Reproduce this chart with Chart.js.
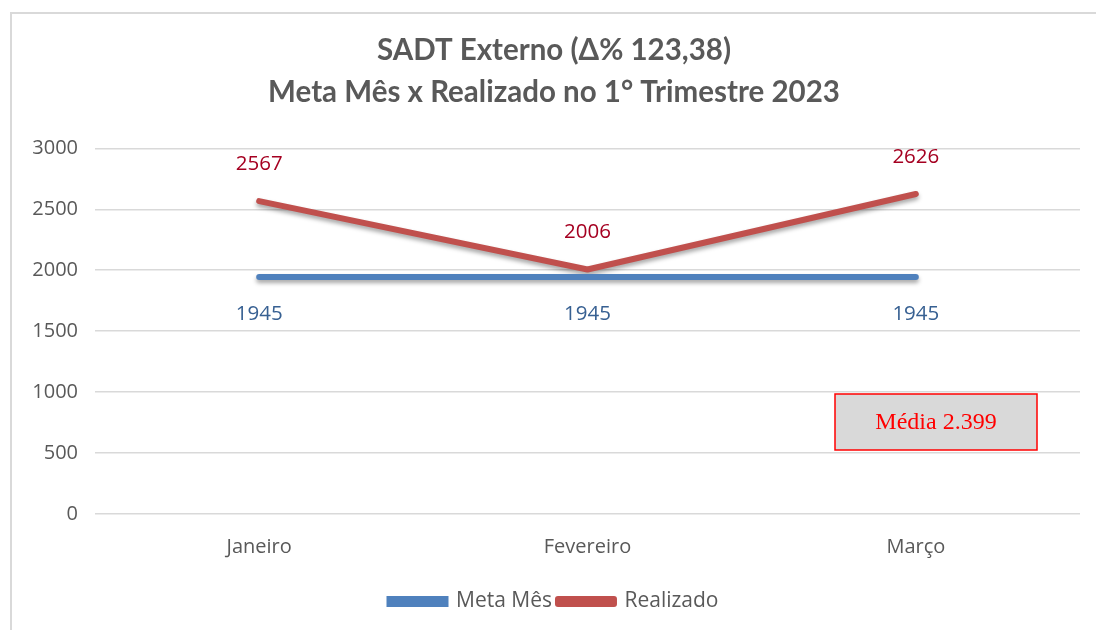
<!DOCTYPE html>
<html>
<head>
<meta charset="utf-8">
<script src="https://cdn.jsdelivr.net/npm/chart.js@4"></script>
<style>
  html, body { margin: 0; padding: 0; background: #fff; }
  #wrap { width: 1096px; height: 630px; }
</style>
</head>
<body>
<div id="wrap"><canvas id="graphId" width="1096" height="630"></canvas></div>
<script>
var months = ['Janeiro', 'Fevereiro', 'Março'];
var metaMes = [1945, 1945, 1945];
var realizado = [2567, 2006, 2626];
var yTicks = [0, 500, 1000, 1500, 2000, 2500, 3000];
var titleLines = ['SADT Externo (Δ% 123,38)', 'Meta Mês x Realizado no 1° Trimestre 2023'];
var mediaText = 'Média 2.399';

var gray = '#595959';
var blue = '#4F81BD';
var red = '#C0504D';

// frame around the chart, like the Excel chart border
var framePlugin = {
	id: 'frame',
	beforeDraw: function(chart) {
		var ctx = chart.ctx;
		ctx.save();
		ctx.fillStyle = '#fff';
		ctx.fillRect(0, 0, chart.width, chart.height);
		ctx.strokeStyle = '#d9d9d9';
		ctx.lineWidth = 2;
		ctx.beginPath();
		ctx.moveTo(11, chart.height);
		ctx.lineTo(11, 13);
		ctx.lineTo(chart.width, 13);
		ctx.stroke();
		ctx.restore();
	}
};

// soft shadow under the lines
var shadowPlugin = {
	id: 'shadow',
	beforeDatasetDraw: function(chart) {
		var ctx = chart.ctx;
		ctx.save();
		ctx.shadowColor = 'rgba(0,0,0,0.35)';
		ctx.shadowBlur = 4;
		ctx.shadowOffsetY = 3;
	},
	afterDatasetDraw: function(chart) {
		chart.ctx.restore();
	}
};

// value labels + "Média" box
var labelPlugin = {
	id: 'labels',
	afterDatasetsDraw: function(chart) {
		var ctx = chart.ctx;
		ctx.save();
		ctx.font = '20.5px "Open Sans"';
		ctx.textAlign = 'center';
		ctx.textBaseline = 'middle';
		chart.data.datasets.forEach(function(ds, i) {
			var meta = chart.getDatasetMeta(i);
			meta.data.forEach(function(pt, j) {
				if (i === 0) {
					ctx.fillStyle = '#376092';
					ctx.fillText(ds.data[j], pt.x, pt.y + 37);
				} else {
					ctx.fillStyle = '#A50021';
					ctx.fillText(ds.data[j], pt.x, pt.y - 37);
				}
			});
		});

		var a = chart.chartArea;
		var x = a.right - 245, y = a.bottom - 120, w = 202, h = 56;
		ctx.fillStyle = '#d9d9d9';
		ctx.fillRect(x, y, w, h);
		ctx.strokeStyle = '#ff0000';
		ctx.lineWidth = 1.5;
		ctx.strokeRect(x, y, w, h);
		ctx.fillStyle = '#ff0000';
		ctx.font = '24px "Liberation Serif"';
		ctx.fillText(mediaText, x + w / 2, y + h / 2 + 1);
		ctx.restore();
	}
};

var ctx = document.getElementById('graphId').getContext('2d');
var myChart = new Chart(ctx, {
	type: 'line',
	data: {
		labels: months,
		datasets: [
			{
				label: 'Meta Mês',
				data: metaMes,
				borderColor: blue,
				backgroundColor: blue,
				borderWidth: 6,
				pointRadius: 0,
				borderCapStyle: 'round'
			},
			{
				label: 'Realizado',
				data: realizado,
				borderColor: red,
				backgroundColor: red,
				borderWidth: 6,
				pointRadius: 0,
				borderCapStyle: 'round',
				borderJoinStyle: 'round'
			}
		]
	},
	options: {
		responsive: false,
		animation: false,
		layout: { padding: { left: 28, right: 16, top: 0, bottom: 8 } },
		plugins: {
			tooltip: { enabled: false },
			title: {
				display: true,
				text: titleLines,
				color: gray,
				font: { family: 'Lato', size: 29.5, weight: 'bold', lineHeight: 1.43 },
				padding: { top: 29, bottom: 35 }
			},
			legend: {
				position: 'bottom',
				labels: {
					color: gray,
					font: { family: 'Open Sans', size: 21 },
					boxWidth: 56,
					boxHeight: 5,
					padding: 6
				}
			}
		},
		scales: {
			x: {
				offset: true,
				afterFit: function(s) { s.height += 13; },
				grid: { display: false },
				border: { display: false },
				ticks: { color: gray, font: { family: 'Open Sans', size: 20 }, padding: 13 }
			},
			y: {
				min: 0,
				max: 3000,
				afterFit: function(s) { s.width = 67; },
				afterBuildTicks: function(s) { s.ticks = yTicks.map(function(v) { return { value: v }; }); },
				grid: { color: '#d9d9d9', lineWidth: 1.5, drawTicks: false },
				border: { display: false },
				ticks: {
					color: gray,
					font: { family: 'Open Sans', size: 20 },
					padding: 17,
					callback: function(v) { return String(v); }
				}
			}
		}
	},
	plugins: [framePlugin, shadowPlugin, labelPlugin]
});
</script>
</body>
</html>
